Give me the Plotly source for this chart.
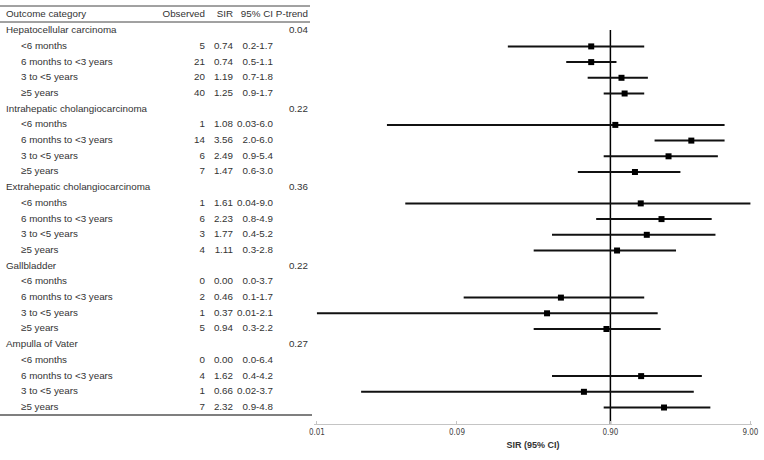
import plotly.graph_objects as go

# ---------------- data ----------------
groups = ["Hepatocellular carcinoma", "Intrahepatic cholangiocarcinoma",
          "Extrahepatic cholangiocarcinoma", "Gallbladder", "Ampulla of Vater"]
p_trend = ["0.04", "0.22", "0.36", "0.22", "0.27"]
periods = ["<6 months", "6 months to <3 years", "3 to <5 years", "≥5 years"]
observed = [[5, 21, 20, 40], [1, 14, 6, 7], [1, 6, 3, 4], [0, 2, 1, 5], [0, 4, 1, 7]]
sir = [[0.74, 0.74, 1.19, 1.25], [1.08, 3.56, 2.49, 1.47], [1.61, 2.23, 1.77, 1.11],
       [0.00, 0.46, 0.37, 0.94], [0.00, 1.62, 0.66, 2.32]]
ci_lo = [["0.2", "0.5", "0.7", "0.9"], ["0.03", "2.0", "0.9", "0.6"],
         ["0.04", "0.8", "0.4", "0.3"], ["0.0", "0.1", "0.01", "0.3"],
         ["0.0", "0.4", "0.02", "0.9"]]
ci_hi = [["1.7", "1.1", "1.8", "1.7"], ["6.0", "6.0", "5.4", "3.0"],
         ["9.0", "4.9", "5.2", "2.8"], ["3.7", "1.7", "2.1", "2.2"],
         ["6.4", "4.2", "3.7", "4.8"]]
headers = ["Outcome category", "Observed", "SIR", "95% CI", "P-trend"]
tick_vals = [0.01, 0.09, 1.0, 9.0]
tick_text = ["0.01", "0.09", "0.90", "9.00"]
x_title = "SIR (95% CI)"

# ---------------- figure ----------------
W, H = 764, 460
TXT = "#333333"
FONT = "Liberation Sans, Arial, sans-serif"
FS = 9.8
fig = go.Figure()

# table text drawn as text traces on a pixel-scaled helper axis (x2)
tx_left, ty_left, tt_left = [], [], []
tx_right, ty_right, tt_right = [], [], []

def left(x, y, s):
    tx_left.append(x); ty_left.append(y); tt_left.append(s)

def right(x, y, s):
    tx_right.append(x); ty_right.append(y); tt_right.append(s)

left(6, 0, headers[0])
right(205, 0, headers[1])
right(233, 0, headers[2])
right(273, 0, headers[3])
right(308, 0, headers[4])

ci_x, ci_y, pt_x, pt_y = [], [], [], []
for g, name in enumerate(groups):
    r0 = 1 + 5 * g
    left(6, r0, name)
    right(308, r0, p_trend[g])
    for j, per in enumerate(periods):
        r = r0 + 1 + j
        left(21, r, per)
        right(205, r, str(observed[g][j]))
        right(233, r, f"{sir[g][j]:.2f}")
        right(273, r, f"{ci_lo[g][j]}-{ci_hi[g][j]}")
        if sir[g][j] > 0:
            ci_x += [float(ci_lo[g][j]), float(ci_hi[g][j]), None]
            ci_y += [r, r, None]
            pt_x.append(sir[g][j])
            pt_y.append(r)

y_bottom = 26.05
y_top = -0.955

tfont = dict(family=FONT, size=FS, color=TXT)
fig.add_trace(go.Scatter(x=tx_left, y=ty_left, text=tt_left, mode="text",
                         textposition="middle right", textfont=tfont,
                         xaxis="x2", yaxis="y", hoverinfo="skip", showlegend=False,
                         cliponaxis=False))
fig.add_trace(go.Scatter(x=tx_right, y=ty_right, text=tt_right, mode="text",
                         textposition="middle left", textfont=tfont,
                         xaxis="x2", yaxis="y", hoverinfo="skip", showlegend=False,
                         cliponaxis=False))

# reference line at SIR = 1
fig.add_trace(go.Scatter(x=[1, 1], y=[0.95, y_bottom], mode="lines",
                         line=dict(color="black", width=1.5), hoverinfo="skip",
                         showlegend=False))
# CI lines
fig.add_trace(go.Scatter(x=ci_x, y=ci_y, mode="lines",
                         line=dict(color="#111111", width=2), hoverinfo="skip",
                         showlegend=False))
# point estimates
fig.add_trace(go.Scatter(x=pt_x, y=pt_y, mode="markers",
                         marker=dict(symbol="square", size=6, color="black"),
                         hoverinfo="skip", showlegend=False))

shapes = [
    dict(type="line", xref="x2", yref="y", x0=0, x1=310, y0=-0.573, y1=-0.573,
         line=dict(color="#444444", width=1)),
    dict(type="line", xref="x2", yref="y", x0=0, x1=310, y0=0.446, y1=0.446,
         line=dict(color="#444444", width=1)),
    dict(type="line", xref="x2", yref="y", x0=0, x1=312, y0=25.48, y1=25.48,
         line=dict(color="#555555", width=1.5)),
]

fig.update_layout(
    width=W, height=H,
    margin=dict(l=0, r=0, t=0, b=36, pad=0, autoexpand=False),
    paper_bgcolor="white", plot_bgcolor="white",
    shapes=shapes,
    xaxis=dict(type="log", domain=[314 / W, 752 / W], range=[-2.02, 0.965],
               tickvals=tick_vals, ticktext=tick_text, automargin=False,
               showline=True, linecolor="#c4c4c4", linewidth=1,
               ticks="inside", ticklen=3, tickcolor="#c4c4c4",
               showgrid=False, zeroline=False,
               tickfont=dict(family="Liberation Sans Narrow, DejaVu Sans Condensed, sans-serif",
                             size=8, color="#444444"),
               title=dict(text="<b>" + x_title + "</b>", standoff=6,
                          font=dict(family="Liberation Sans Narrow, Arial, sans-serif",
                                    size=9, color="#333333"))),
    xaxis2=dict(domain=[0, 314 / W], range=[0, 314], visible=False, fixedrange=True,
                anchor="y", automargin=False),
    yaxis=dict(range=[y_bottom, y_top], visible=False, showgrid=False, zeroline=False,
               automargin=False),
)

fig.write_html("out.html", config={"displayModeBar": False, "responsive": False},
               post_script="document.body.style.margin='0';document.body.style.padding='0';")
